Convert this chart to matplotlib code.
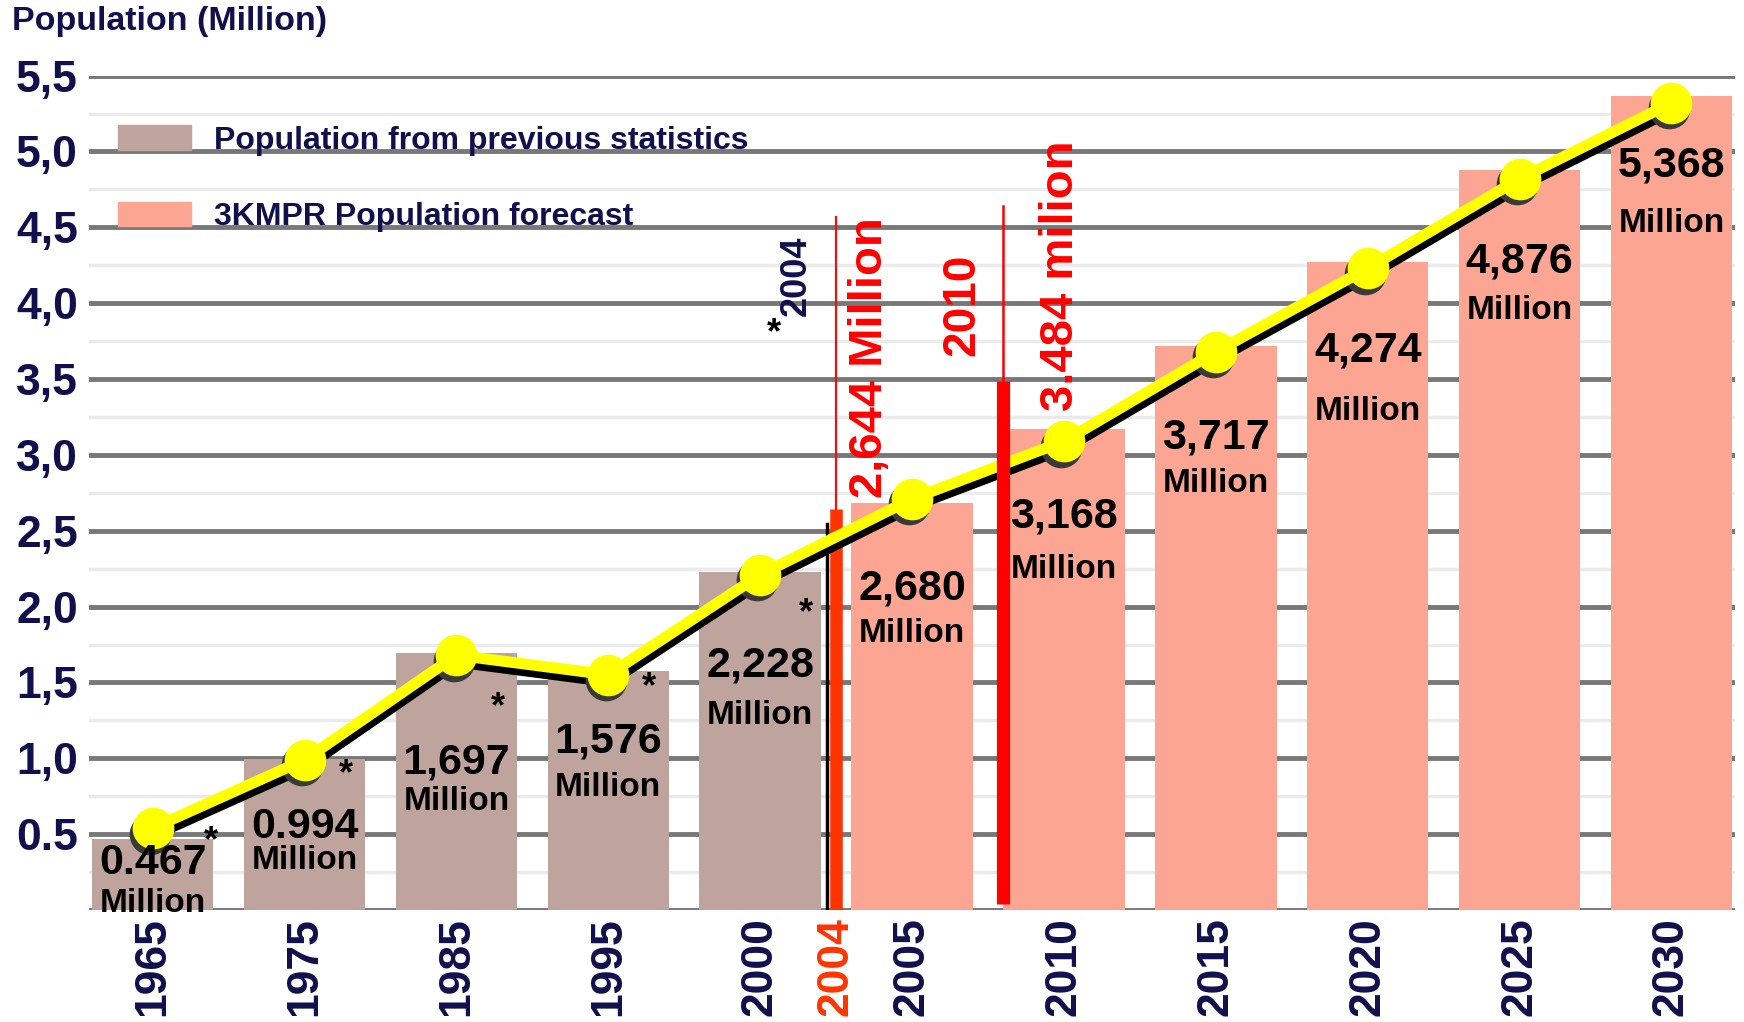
import matplotlib.pyplot as plt
from matplotlib.patches import Patch
from matplotlib.transforms import offset_copy
import numpy as np

plt.rcParams['font.family'] = ['Liberation Sans', 'DejaVu Sans']
plt.rcParams['font.weight'] = 'bold'

# data
years = ['1965', '1975', '1985', '1995', '2000', '2005', '2010', '2015', '2020', '2025', '2030']
population = [0.467, 0.994, 1.697, 1.576, 2.228, 2.680, 3.168, 3.717, 4.274, 4.876, 5.368]
value_labels = ['0.467', '0.994', '1,697', '1,576', '2,228', '2,680', '3,168',
                '3,717', '4,274', '4,876', '5,368']
trend = [0.54, 0.99, 1.68, 1.55, 2.21, 2.71, 3.09, 3.68, 4.23, 4.82, 5.32]
n_history = 5            # 1965..2000 come from previous statistics
pop_2004 = 2.644
pop_2010 = 3.484
y_ticks = [0.5, 1.0, 1.5, 2.0, 2.5, 3.0, 3.5, 4.0, 4.5, 5.0, 5.5]
y_tick_labels = ['0.5', '1,0', '1,5', '2,0', '2,5', '3,0', '3,5', '4,0', '4,5', '5,0', '5,5']

NAVY = '#10104c'
BROWN = '#bfa39d'
SALMON = '#fca593'

# label offsets below bar tops (points)
num_drop = [17, 49, 79, 51, 67, 61, 63, 66, 64, 66, 50]
mil_drop = [46, 73, 107, 84, 103, 94, 101, 99, 108, 101, 92]
star_dx = [42, 30, 30, 29, 33]
star_drop = [2, 11, 40, 12, 30]

fig = plt.figure(figsize=(17.44, 10.22), dpi=100)
ax = fig.add_axes([0.051, 0.1096, 0.944, 0.8164])

x = np.arange(len(years))
x04 = n_history - 0.5     # 2004 sits between 2000 and 2005
x10 = n_history + 0.6     # 2010 split line

# grid
for v in np.arange(0.25, 5.5, 0.5):
    ax.axhline(v, color='#ebebeb', lw=2.5, zorder=0)
for v in [0.0] + y_ticks:
    ax.axhline(v, color='#787878', lw=3.5, zorder=0.5)

colors = [BROWN] * n_history + [SALMON] * (len(years) - n_history)
ax.bar(x, population, width=0.8, color=colors, zorder=1)

# 2004 marker
ax.plot([x04 - 0.06, x04 - 0.06], [0, pop_2004 - 0.1], color='black', lw=2.5, zorder=2)
ax.plot([x04, x04], [0, pop_2004], color='#ff3300', lw=9, zorder=2, solid_capstyle='butt')
ax.plot([x04, x04], [pop_2004, 4.57], color='#ee1111', lw=1.6, zorder=2)

# trend line with shadow
shadow = offset_copy(ax.transData, fig=fig, x=1, y=-5, units='points')
mshadow = offset_copy(ax.transData, fig=fig, x=-2, y=-4, units='points')
ax.plot(x, trend, color='black', lw=8, transform=shadow, zorder=3, solid_joinstyle='round')
ax.plot(x, trend, 'o', color='#3a3a3a', ms=30, mew=0, transform=mshadow, zorder=3, clip_on=False)
ax.plot(x, trend, color='#ffff00', lw=8, zorder=4, solid_joinstyle='round')
ax.plot(x, trend, 'o', color='#ffff00', ms=30, mew=0, zorder=4, clip_on=False)

# 2010 marker
ax.plot([x10, x10], [0.04, pop_2010], color='#ff0000', lw=9.5, zorder=5, solid_capstyle='butt')
ax.plot([x10, x10], [pop_2010, 4.64], color='#ff0000', lw=1.8, zorder=5)

# value labels
for i, top in enumerate(population):
    ax.annotate(value_labels[i], (x[i], top), xytext=(0, -num_drop[i]),
                textcoords='offset points', ha='center', va='center',
                fontsize=31, color='black', zorder=6)
    ax.annotate('Million', (x[i], top), xytext=(0, -mil_drop[i]),
                textcoords='offset points', ha='center', va='center',
                fontsize=24, color='black', zorder=6)
for i in range(n_history):
    ax.annotate('*', (x[i], population[i]), xytext=(star_dx[i], -star_drop[i]),
                textcoords='offset points', ha='center', va='center',
                fontsize=26, color='black', zorder=6)

# side notes
ax.text(x04 - 0.41, 3.80, '*', fontsize=26, color='black', ha='center', va='center')
ax.text(x04 - 0.26, 4.18, '2004', fontsize=26, color=NAVY, rotation=90,
        ha='center', va='center')
ax.text(x04 + 0.22, 3.64, '2,644 Million', fontsize=34, color='#ff0000', rotation=90,
        ha='center', va='center')
ax.text(x04 + 0.83, 3.99, '2010', fontsize=33, color='#ff0000', rotation=90,
        ha='center', va='center')
ax.text(x04 + 1.48, 4.18, '3.484 milion', fontsize=34, color='#ff0000', rotation=90,
        ha='center', va='center')

# axes
ax.set_xlim(-0.42, len(years) - 0.58)
ax.set_ylim(0, 5.5)
tick_pos = list(x[:n_history]) + [x04] + list(x[n_history:])
tick_lab = years[:n_history] + ['2004'] + years[n_history:]
ax.set_xticks(tick_pos)
ax.set_xticklabels(tick_lab, rotation=90, fontsize=32, color=NAVY, va='top')
ax.get_xticklabels()[n_history].set_color('#ff3300')
ax.set_yticks(y_ticks)
ax.set_yticklabels(y_tick_labels, fontsize=32, color=NAVY)
ax.tick_params(axis='y', length=0, pad=8)
ax.tick_params(axis='x', length=0, pad=5)
for s in ax.spines.values():
    s.set_visible(False)

fig.text(0.007, 0.979, 'Population (Million)', fontsize=24.5, color=NAVY,
         ha='left', va='center')

handles = [Patch(color=BROWN, label='Population from previous statistics'),
           Patch(color=SALMON, label='3KMPR Population forecast')]
leg = ax.legend(handles=handles, loc='upper left', bbox_to_anchor=(0.0, 0.975),
                frameon=False, fontsize=23, handlelength=2.3, handleheight=0.8,
                labelspacing=1.45, handletextpad=0.7)
for t in leg.get_texts():
    t.set_color(NAVY)

fig.savefig('out.png', dpi=100)
